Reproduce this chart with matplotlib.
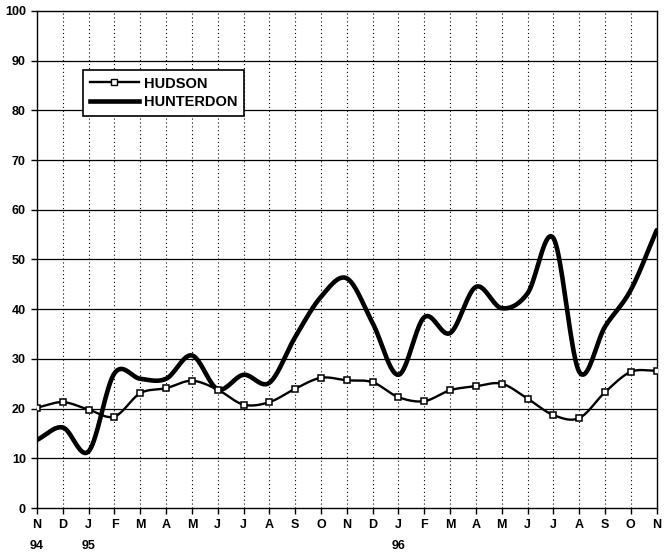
import numpy as np
import matplotlib.pyplot as plt
from matplotlib.lines import Line2D

# month labels along the x axis (Nov 94 .. Nov 96)
months = ['N', 'D', 'J', 'F', 'M', 'A', 'M', 'J', 'J', 'A', 'S', 'O',
          'N', 'D', 'J', 'F', 'M', 'A', 'M', 'J', 'J', 'A', 'S', 'O', 'N']
year_labels = {0: '94', 2: '95', 14: '96'}

hudson = [20.2, 21.3, 19.8, 18.4, 23.1, 24.1, 25.6, 23.8, 20.8, 21.3, 24.0, 26.2,
          25.7, 25.3, 22.3, 21.5, 23.7, 24.5, 25.0, 22.0, 18.7, 18.1, 23.3, 27.4, 27.6]
hunterdon = [13.7, 16.2, 11.4, 27.1, 26.0, 26.0, 30.7, 23.9, 26.8, 25.2, 34.4, 42.5,
             46.2, 37.2, 26.8, 38.4, 35.2, 44.5, 40.2, 43.2, 54.3, 27.4, 36.5, 43.9, 55.9]


def smooth(y, n=20):
    # catmull-rom curve through the points, like the spreadsheet "smoothed line"
    y = np.asarray(y, dtype=float)
    x = np.arange(len(y), dtype=float)
    p = np.concatenate([[2 * y[0] - y[1]], y, [2 * y[-1] - y[-2]]])
    xs, ys = [], []
    t = np.linspace(0, 1, n, endpoint=False)
    for i in range(len(y) - 1):
        p0, p1, p2, p3 = p[i], p[i + 1], p[i + 2], p[i + 3]
        seg = 0.5 * ((2 * p1) + (-p0 + p2) * t + (2 * p0 - 5 * p1 + 4 * p2 - p3) * t ** 2
                     + (-p0 + 3 * p1 - 3 * p2 + p3) * t ** 3)
        xs.append(x[i] + t)
        ys.append(seg)
    xs.append([x[-1]])
    ys.append([y[-1]])
    return np.concatenate(xs), np.concatenate(ys)


plt.rcParams['font.family'] = ['Liberation Sans', 'DejaVu Sans']
plt.rcParams['font.weight'] = 'bold'

fig = plt.figure(figsize=(6.64, 5.52), dpi=100)
ax = fig.add_axes([0.0557, 0.0797, 0.9333, 0.9004])

x = np.arange(len(months))
ax.set_xlim(0, len(months) - 1)
ax.set_ylim(0, 100)

# grid: solid horizontal, dotted vertical
for v in range(10, 100, 10):
    ax.axhline(v, color='black', lw=0.9, zorder=1)
for i in x[1:-1]:
    ax.axvline(i, color='black', lw=0.8, ls=(0, (1, 2.5)), zorder=1)

hx, hy = smooth(hunterdon)
ax.plot(hx, hy, color='black', lw=3.3, solid_capstyle='round', zorder=3)
sx, sy = smooth(hudson)
ax.plot(sx, sy, color='black', lw=1.7, zorder=4)
ax.plot(x, hudson, ls='none', marker='s', ms=4.5, mfc='white', mec='black', mew=1.1, zorder=5)

ax.set_yticks(range(0, 101, 10))
ax.set_yticklabels([str(v) for v in range(0, 101, 10)], fontsize=9, fontweight='bold')
ax.set_xticks(x)
labels = [m + ('\n\n' + year_labels[i] if i in year_labels else '\n\n') for i, m in enumerate(months)]
ax.set_xticklabels(labels, fontsize=9, fontweight='bold', linespacing=0.8, va='top')
ax.tick_params(axis='both', length=4, width=1, direction='out', pad=4)
for s in ax.spines.values():
    s.set_linewidth(1.0)

handles = [Line2D([], [], color='black', lw=1.7, marker='s', ms=4.5, mfc='white', mec='black'),
           Line2D([], [], color='black', lw=3.3)]
leg = ax.legend(handles, ['HUDSON', 'HUNTERDON'], loc='upper left',
                bbox_to_anchor=(83 / 664, 1 - 70 / 552), bbox_transform=fig.transFigure,
                prop={'weight': 'bold', 'size': 10.5}, fancybox=False, framealpha=1,
                edgecolor='black', handlelength=3.4, handletextpad=0.3, borderpad=0.45,
                borderaxespad=0, labelspacing=0.3)
leg.get_frame().set_linewidth(1.2)

fig.savefig('out.png', dpi=100)
